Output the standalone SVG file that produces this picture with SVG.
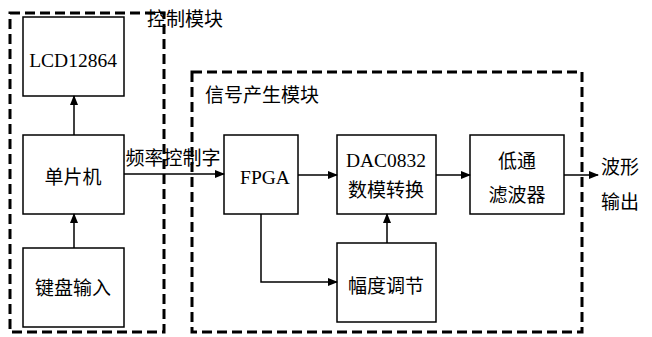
<svg xmlns="http://www.w3.org/2000/svg" width="652" height="337" viewBox="0 0 652 337">
<defs>
<marker id="arr" markerWidth="10" markerHeight="8" refX="9" refY="4" orient="auto" markerUnits="userSpaceOnUse">
<path d="M0,0 L10,4 L0,8 Z" fill="#000"/>
</marker>
<style>
.box{fill:#fff;stroke:#000;stroke-width:1.5}
.dash{fill:none;stroke:#000;stroke-width:3;stroke-dasharray:10 5}
.zh{font-family:"Noto Sans CJK SC","Noto Sans",sans-serif;font-size:19px;fill:#000}
.en{font-family:"Liberation Serif",serif;font-size:19.5px;fill:#000}
.c{text-anchor:middle;dominant-baseline:central}
.ln{fill:none;stroke:#000;stroke-width:1.5}
</style>
</defs>
<rect width="652" height="337" fill="#fff"/>
<g id="control-module">
<rect class="dash" x="10" y="13" width="154" height="319"/>
<text class="zh" x="147" y="17" dominant-baseline="central">控制模块</text>
</g>
<g id="signal-module">
<rect class="dash" x="192" y="72" width="390" height="260"/>
<text class="zh" x="205" y="93" dominant-baseline="central">信号产生模块</text>
</g>
<g id="lcd">
<rect class="box" x="23" y="17" width="101" height="79"/>
<text class="en c" x="73" y="60">LCD12864</text>
</g>
<g id="mcu">
<rect class="box" x="23" y="135" width="101" height="79"/>
<text class="zh c" x="73" y="175">单片机</text>
</g>
<g id="keyboard">
<rect class="box" x="23" y="248" width="101" height="79"/>
<text class="zh c" x="73" y="286">键盘输入</text>
</g>
<g id="fpga">
<rect class="box" x="224" y="135" width="74" height="79"/>
<text class="en c" x="265" y="177">FPGA</text>
</g>
<g id="dac">
<rect class="box" x="337" y="135" width="99" height="79"/>
<text class="en c" x="386" y="160">DAC0832</text>
<text class="zh c" x="386" y="188">数模转换</text>
</g>
<g id="amplitude">
<rect class="box" x="337" y="243" width="99" height="79"/>
<text class="zh c" x="386" y="284">幅度调节</text>
</g>
<g id="filter">
<rect class="box" x="470" y="135" width="94" height="79"/>
<text class="zh c" x="517" y="159">低通</text>
<text class="zh c" x="517" y="193">滤波器</text>
</g>
<g id="output">
<text class="zh c" x="620" y="165">波形</text>
<text class="zh c" x="620" y="200">输出</text>
</g>
<g id="connectors">
<line class="ln" x1="74" y1="135" x2="74" y2="96" marker-end="url(#arr)"/>
<line class="ln" x1="74" y1="248" x2="74" y2="214" marker-end="url(#arr)"/>
<line class="ln" x1="124" y1="174" x2="224" y2="174" marker-end="url(#arr)"/>
<text class="zh c" x="173" y="156">频率控制字</text>
<line class="ln" x1="298" y1="175" x2="337" y2="175" marker-end="url(#arr)"/>
<line class="ln" x1="436" y1="175" x2="470" y2="175" marker-end="url(#arr)"/>
<line class="ln" x1="564" y1="175" x2="598" y2="175" marker-end="url(#arr)"/>
<line class="ln" x1="387" y1="243" x2="387" y2="214" marker-end="url(#arr)"/>
<polyline class="ln" points="261,214 261,282 337,282" marker-end="url(#arr)"/>
</g>
</svg>
